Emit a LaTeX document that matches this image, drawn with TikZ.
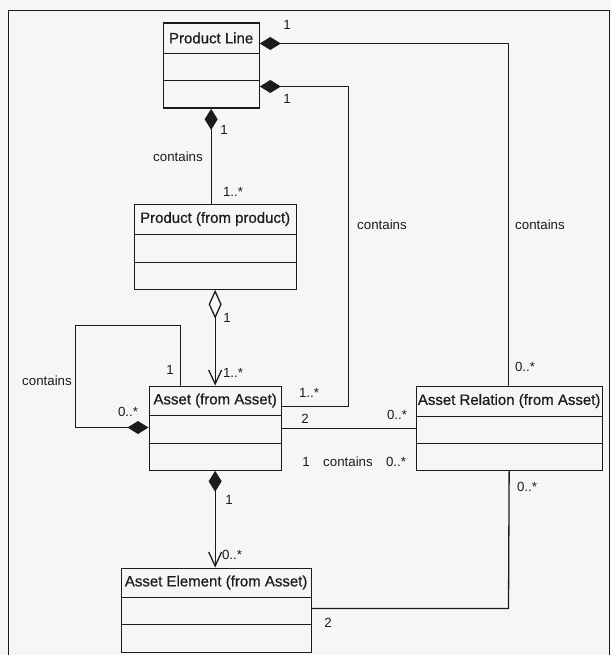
\documentclass[tikz,border=0pt]{standalone}
\usepackage{fontspec}
\setmainfont{Liberation Sans}
\newfontfamily\hdrfont{Liberation Sans}[FakeBold=0.7]
\usetikzlibrary{arrows.meta,calc}
\definecolor{ink}{HTML}{1C1C1C}
\definecolor{paper}{HTML}{F6F6F4}
\newcommand\classbox[8]{%
  \node[cls, minimum width=#4pt, minimum height=#5pt] (#1) at (#2,#3) {};
  \draw[conn] ($(#1.north west)+(0,#6)$) -- ($(#1.north east)+(0,#6)$);
  \draw[conn] ($(#1.north west)+(0,#7)$) -- ($(#1.north east)+(0,#7)$);
  \node[hdr] (#1-name) at ($(#1.north)+(0,#6/2)$) {#8};
}
\begin{document}
\begin{tikzpicture}[x=1pt,y=-1pt,
  cls/.style={draw=ink, line width=1.3pt, rectangle, inner sep=0pt, anchor=north west},
  hdr/.style={font=\hdrfont\fontsize{15}{17}\selectfont, text=ink, inner sep=0pt},
  lbl/.style={font=\fontsize{13.3}{15}\selectfont, text=ink, inner sep=0pt},
  conn/.style={draw=ink, line width=1.3pt},
  compo/.style={conn, {Diamond[length=21pt,width=13pt]}-},
  compnav/.style={conn, {Diamond[length=21pt,width=13pt]}-{Straight Barb[length=14pt,width=13pt]}},
  aggnav/.style={conn, {Diamond[open,length=29pt,width=13pt]}-{Straight Barb[length=14pt,width=13pt]}},
  compend/.style={conn, -{Diamond[length=21pt,width=13pt]}}
]
\fill[paper] (0,0) rectangle (611,655);
\useasboundingbox (0,0) rectangle (611,655);
% frame
\draw[ink, line width=1.3pt] (8.5,655) -- (8.5,10.5) -- (609.5,10.5) -- (609.5,655);

% classes
\classbox{PL}{162.5}{22.5}{96}{85}{31}{58}{Product Line}
\classbox{P}{133.5}{203.5}{162}{85}{31}{59}{Product (from product)}
\classbox{A}{148.5}{385.5}{132}{84}{30}{58}{Asset (from Asset)}
\classbox{AR}{415.5}{385.5}{186}{84}{31}{58}{Asset Relation (from Asset)}
\classbox{AE}{120.5}{567.5}{190}{84}{30}{57}{Asset Element (from Asset)}

% connectors
\coordinate (b1) at (508.5,43.5);
\draw[compo] (PL.east |- b1) -- (b1) -- (b1 |- AR.north);
\coordinate (b2) at (348.5,86.5);
\coordinate (b3) at (348.5,406.5);
\draw[compo] (PL.east |- b2) -- (b2) -- (b3) -- (b3 -| A.east);
\draw[compo] (PL.south) -- (PL.south |- P.north);
\draw[aggnav] (P.south) -- (P.south |- A.north);
\coordinate (s1) at (180.5,325.5);
\coordinate (s2) at (75.5,325.5);
\coordinate (s3) at (75.5,427.5);
\draw[compend] (s1 |- A.north) -- (s1) -- (s2) -- (s3) -- (s3 -| A.west);
\coordinate (r1) at (300,428.5);
\draw[conn] (A.east |- r1) -- (AR.west |- r1);
\draw[compnav] (A.south) -- (A.south |- AE.north);
\coordinate (e1) at (508.5,608.5);
\draw[conn] (AE.east |- e1) -- (e1) -- (AR.south);

% labels
\node[lbl] (l1) at (287,25) {1};
\node[lbl] (l2) at (540,225) {contains};
\node[lbl] (l3) at (525,367) {0..*};
\node[lbl] (l4) at (287,99) {1};
\node[lbl] (l5) at (382,225) {contains};
\node[lbl] (l6) at (309,393) {1..*};
\node[lbl] (l7) at (224,130) {1};
\node[lbl] (l8) at (178,157) {contains};
\node[lbl] (l9) at (233,192) {1..*};
\node[lbl] (l10) at (227,318) {1};
\node[lbl] (l11) at (233,373) {1..*};
\node[lbl] (l12) at (170,370) {1};
\node[lbl] (l13) at (47,381) {contains};
\node[lbl] (l14) at (128,412) {0..*};
\node[lbl] (l15) at (305,419) {2};
\node[lbl] (l16) at (397,415) {0..*};
\node[lbl] (l17) at (306,462) {1};
\node[lbl] (l18) at (348,462) {contains};
\node[lbl] (l19) at (396,462) {0..*};
\node[lbl] (l20) at (229,500) {1};
\node[lbl] (l21) at (232,555) {0..*};
\node[lbl] (l22) at (328,623) {2};
\node[lbl] (l23) at (527,487) {0..*};
\end{tikzpicture}
\end{document}
